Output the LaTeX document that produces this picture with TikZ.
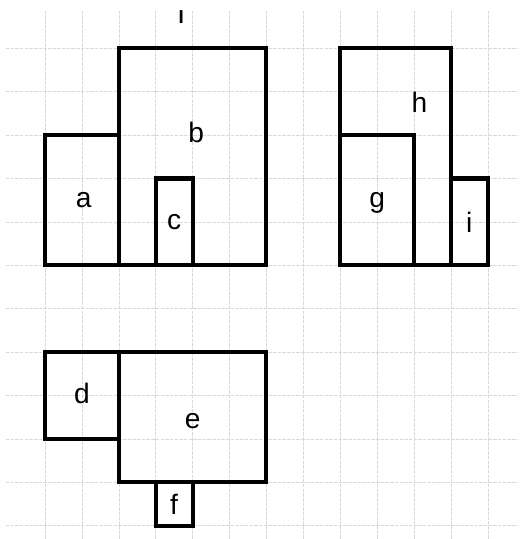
\documentclass[tikz,border=0pt]{standalone}
\usepackage{fontspec}
\setmainfont{Liberation Sans}
\begin{document}
\begin{tikzpicture}[x=1.107cm,y=1.302cm,
		gridline/.style={gray!30, line width=0.5pt, dash pattern=on 3pt off 1pt},
		piece/.style={line width=3.5pt, line join=miter},
		lbl/.style={font=\fontsize{24}{28}\selectfont, inner sep=0pt}]
				\useasboundingbox (-1.2195,-0.306) rectangle (12.846,12.113);
				% grid
				\foreach \r in {0,...,11}
					\draw[gridline] (-1.06,\r) -- (12.82,\r);
				\foreach \c in {0,...,12}
					\draw[gridline] (\c,-0.306) -- (\c,11.88);
				% upper left group
				\draw[piece] (0,6) rectangle (2,9);
				\draw[piece] (2,6) rectangle (6,11);
				\draw[piece] (3,6) rectangle (4,8);
				\node[lbl] (la) at (1.05,7.5) {a};
				\node[lbl] (lb) at (4.1,9.05) {b};
				\node[lbl] (lc) at (3.5,7) {c};
				\node[font=\fontsize{16}{18}\selectfont\bfseries, inner sep=0pt] (ltop) at (3.69,11.72) {I};
				% upper right group
				\draw[piece] (8,6) rectangle (11,11);
				\draw[piece] (8,6) rectangle (10,9);
				\draw[piece] (11,6) rectangle (12,8);
				\node[lbl] (lg) at (9,7.45) {g};
				\node[lbl] (lh) at (10.15,9.75) {h};
				\node[lbl] (li) at (11.5,7) {i};
				% lower group
				\draw[piece] (0,2) rectangle (2,4);
				\draw[piece] (2,1) rectangle (6,4);
				\draw[piece] (3,0) rectangle (4,1);
				\node[lbl] (ld) at (1,3.05) {d};
				\node[lbl] (le) at (4,2.4) {e};
				\node[lbl] (lf) at (3.5,0.5) {f};
			\end{tikzpicture}
\end{document}
